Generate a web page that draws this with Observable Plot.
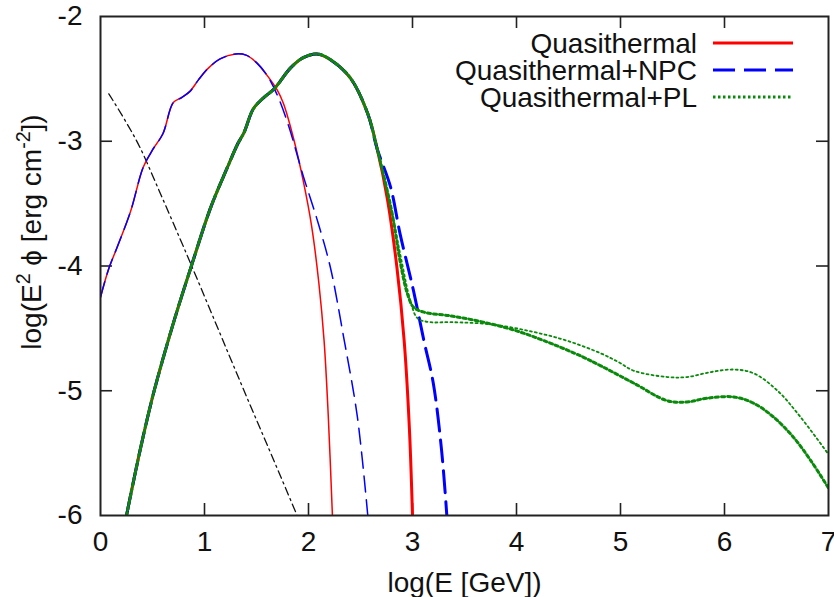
<!DOCTYPE html>
<html>
<head>
<meta charset="utf-8">
<script src="https://cdn.jsdelivr.net/npm/d3@7"></script>
<script src="https://cdn.jsdelivr.net/npm/@observablehq/plot@0.6"></script>
<style>
  html, body { margin: 0; padding: 0; background: #fff; }
  #chart { width: 834px; height: 597px; }
</style>
</head>
<body>
<div id="chart"></div>
<script>
// ---- tick labels ----
const xTicks = [0, 1, 2, 3, 4, 5, 6, 7];
const yTicks = [-6, -5, -4, -3, -2];
const xInner = [1, 2, 3, 4, 5, 6];
const yInner = [-5, -4, -3];

// ---- legend / labels ----
const seriesNames = ["Quasithermal", "Quasithermal+NPC", "Quasithermal+PL"];
const xLabel = "log(E [GeV])";
// y label pieces: [text, isSuperscript]
const yLabelParts = [["log(E", false], ["2", true], [" \u03D5 [erg cm", false], ["-2", true], ["])", false]];

// ---- low-energy thermal component: shared rising part ----
const riseLowX = [0, 0.08, 0.16, 0.29, 0.41, 0.50, 0.60, 0.70, 0.78, 0.86, 0.94, 1.03, 1.15, 1.30, 1.40, 1.50, 1.60];
const riseLowY = [-4.25, -4.02, -3.85, -3.56, -3.21, -3.07, -2.94, -2.69, -2.65, -2.60, -2.51, -2.42, -2.34, -2.30, -2.31, -2.37, -2.47];

// Quasithermal (thin solid) low component tail
const qtLowX = [...riseLowX, 1.70, 1.76, 1.86, 1.95, 2.03, 2.10, 2.15, 2.19, 2.23];
const qtLowY = [...riseLowY, -2.59, -2.70, -2.99, -3.32, -3.68, -4.14, -4.60, -5.20, -6.0];

// Quasithermal+NPC (thin dashed) low component tail
const npcLowX = [...riseLowX, 1.70, 1.81, 1.95, 2.08, 2.21, 2.34, 2.47, 2.57];
const npcLowY = [...riseLowY, -2.63, -2.88, -3.28, -3.62, -4.01, -4.58, -5.21, -6.0];

// ---- high-energy thermal component: shared rising part ----
const riseHighX = [0.25, 0.38, 0.51, 0.70, 0.87, 1.06, 1.22, 1.32, 1.38, 1.47, 1.57, 1.67, 1.83, 1.95, 2.08, 2.20, 2.40, 2.57, 2.66];
const riseHighY = [-6.0, -5.48, -5.02, -4.46, -4.01, -3.53, -3.21, -3.02, -2.93, -2.74, -2.65, -2.58, -2.41, -2.33, -2.30, -2.34, -2.49, -2.78, -3.06];

// Quasithermal (thick solid)
const qtHighX = [...riseHighX, 2.76, 2.85, 2.92, 2.97, 3.00];
const qtHighY = [...riseHighY, -3.47, -4.01, -4.60, -5.30, -6.0];

// Quasithermal+NPC (thick dashed)
const npcHighX = [...riseHighX, 2.79, 2.88, 3.01, 3.11, 3.20, 3.28, 3.33];
const npcHighY = [...riseHighY, -3.37, -3.74, -4.20, -4.60, -4.94, -5.48, -6.0];

// Quasithermal+PL (thick dotted)
const plThickX = [...riseHighX, 2.80, 2.88, 2.95, 3.01, 3.11, 3.37, 3.68, 4.00, 4.33, 4.64, 4.81, 5.13, 5.45, 5.64, 5.83, 6.09, 6.28, 6.47, 6.66, 6.83, 7.00];
const plThickY = [...riseHighY, -3.56, -3.96, -4.22, -4.33, -4.37, -4.40, -4.45, -4.52, -4.62, -4.73, -4.80, -4.94, -5.08, -5.09, -5.06, -5.05, -5.10, -5.21, -5.37, -5.56, -5.78];

// Quasithermal+PL (thin dotted)
const plThinX = [...riseHighX, 2.80, 2.90, 2.98, 3.05, 3.17, 3.37, 3.78, 4.17, 4.49, 4.81, 4.98, 5.13, 5.45, 5.64, 5.87, 6.09, 6.28, 6.51, 6.73, 7.00];
const plThinY = [...riseHighY, -3.56, -3.98, -4.28, -4.42, -4.45, -4.45, -4.47, -4.53, -4.60, -4.70, -4.77, -4.84, -4.89, -4.89, -4.85, -4.83, -4.86, -5.00, -5.21, -5.51];

// Dash-dot black component
const bgX = [0.08, 0.22, 0.38, 0.55, 0.80, 1.35, 1.86, 1.89];
const bgY = [-2.62, -2.81, -3.05, -3.37, -3.85, -4.94, -5.94, -6.0];

// ---- styles ----
const RED = "#ff0000", BLUE = "#0000ff", GREEN = "#0a8a0a";
const FONT = '"Liberation Sans", Arial, Helvetica, sans-serif';
const FS = 28;

const line = (xs, ys, opts) => Plot.line(xs, {x: xs, y: ys, curve: "catmull-rom", clip: true, fill: "none", ...opts});

const chart = Plot.plot({
  width: 834,
  height: 597,
  marginLeft: 100,
  marginRight: 6,
  marginTop: 16,
  marginBottom: 82,
  style: {fontFamily: FONT, fontSize: FS + "px", color: "#111", background: "#fff"},
  x: {domain: [0, 7], label: null},
  y: {domain: [-6, -2], label: null},
  marks: [
    Plot.axisX({ticks: xTicks, tickSize: 0, tickPadding: 16, tickFormat: d => String(d), label: null, fontSize: FS}),
    Plot.axisY({ticks: yTicks, tickSize: 0, tickPadding: 18, tickFormat: d => String(d), label: null, fontSize: FS}),
    Plot.tickX(xInner, {x: d => d, insetTop: 487, stroke: "#222", strokeWidth: 1.6}),
    Plot.tickX(xInner, {x: d => d, insetBottom: 487, stroke: "#222", strokeWidth: 1.6}),
    Plot.tickY(yInner, {y: d => d, insetRight: 716, stroke: "#222", strokeWidth: 1.6}),
    Plot.tickY(yInner, {y: d => d, insetLeft: 716, stroke: "#222", strokeWidth: 1.6}),
    line(bgX, bgY, {stroke: "#111", strokeWidth: 1.3, strokeDasharray: "8,4,2,4", curve: "monotone-x"}),
    line(qtLowX, qtLowY, {stroke: RED, strokeWidth: 1.5}),
    line(qtHighX, qtHighY, {stroke: RED, strokeWidth: 3}),
    line(npcLowX, npcLowY, {stroke: BLUE, strokeWidth: 1.5, strokeDasharray: "16,8"}),
    line(npcHighX, npcHighY, {stroke: BLUE, strokeWidth: 3, strokeDasharray: "22,9"}),
    line(plThinX, plThinY, {stroke: GREEN, strokeWidth: 1.8, strokeDasharray: "2,3"}),
    line(plThickX, plThickY, {stroke: GREEN, strokeWidth: 3, strokeDasharray: "3,3"}),
    Plot.frame({stroke: "#222", strokeWidth: 2}),
    Plot.text([xLabel], {frameAnchor: "bottom", textAnchor: "middle", dy: 76, lineAnchor: "bottom", fontSize: FS, fill: "#111"})
  ]
});

document.getElementById("chart").appendChild(chart);

const svg = d3.select(chart);

// ---- y axis label with real superscripts (layout only) ----
const yl = svg.append("text")
  .attr("transform", "translate(41,232) rotate(-90)")
  .attr("text-anchor", "middle")
  .attr("font-family", FONT).attr("font-size", FS).attr("fill", "#111");
yLabelParts.forEach(([t, sup]) => {
  const ts = yl.append("tspan").text(t);
  if (sup) ts.attr("font-size", FS * 0.7).attr("dy", "-0.55em");
  else ts.attr("dy", yl.selectAll("tspan").size() > 1 ? "0.385em" : null);
});

// ---- legend overlay (layout only) ----
const legendStyles = [
  {stroke: RED, width: 3, dash: null},
  {stroke: BLUE, width: 3, dash: "22,9"},
  {stroke: GREEN, width: 3, dash: "2.5,2.5"}
];
const lg = svg.append("g").attr("font-family", FONT).attr("font-size", FS);
seriesNames.forEach((name, i) => {
  const cy = 43 + i * 27;
  lg.append("text").attr("x", 697).attr("y", cy).attr("dy", "0.36em")
    .attr("text-anchor", "end").attr("fill", "#111").text(name);
  const l = lg.append("line").attr("x1", 713).attr("x2", 793).attr("y1", cy).attr("y2", cy)
    .attr("stroke", legendStyles[i].stroke).attr("stroke-width", legendStyles[i].width);
  if (legendStyles[i].dash) l.attr("stroke-dasharray", legendStyles[i].dash);
});
</script>
</body>
</html>
